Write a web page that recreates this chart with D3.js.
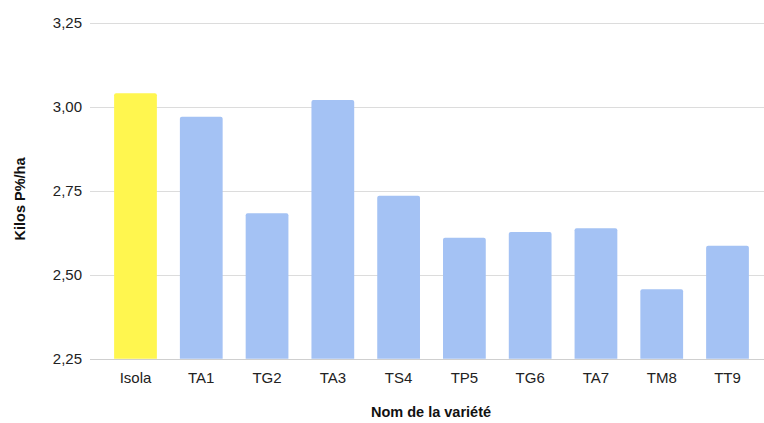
<!DOCTYPE html>
<html><head><meta charset="utf-8">
<script src="https://cdn.jsdelivr.net/npm/d3@7"></script>
<style>body{margin:0;background:#fff}svg{display:block;font-family:"Liberation Sans",Arial,sans-serif}</style>
</head><body><svg id="c" width="764" height="423"></svg>
<script>
const categories = ["Isola","TA1","TG2","TA3","TS4","TP5","TG6","TA7","TM8","TT9"];
const values = [3.04,2.97,2.683,3.02,2.735,2.61,2.627,2.638,2.457,2.586];
const colors = ["#fff64f","#a4c2f4","#a4c2f4","#a4c2f4","#a4c2f4","#a4c2f4","#a4c2f4","#a4c2f4","#a4c2f4","#a4c2f4"];
const yTicks = [2.25,2.5,2.75,3.0,3.25];
const xTitle = "Nom de la variété";
const yTitle = "Kilos P%/ha";

const svg = d3.select("#c");
const y = d3.scaleLinear().domain([2.25,3.25]).range([358.7,22.7]);
const x = d3.scaleBand().domain(categories).range([102.6,760.4]).paddingInner(0.35).paddingOuter(0.175);
const fmt = v => d3.format(".2f")(v).replace(".", ",");

const grid = svg.append("g");
yTicks.forEach(t => {
  grid.append("line").attr("x1",90).attr("x2",764).attr("y1",Math.round(y(t))+0.5).attr("y2",Math.round(y(t))+0.5)
    .attr("stroke", t===2.25 ? "#cfcfcf" : "#dcdcdc").attr("stroke-width",1);
  svg.append("text").attr("x",82).attr("y",y(t)).attr("dy","0.36em").attr("text-anchor","end")
    .attr("font-size",15).attr("fill","#222").text(fmt(t));
});

svg.append("g").selectAll("path").data(categories).join("path")
  .attr("fill",(d,i)=>colors[i])
  .attr("d",(d,i)=>{
    const x0 = x(d), w = x.bandwidth(), y0 = y(values[i]), y1 = y(2.25), r = 2;
    return `M${x0},${y1}V${y0+r}Q${x0},${y0} ${x0+r},${y0}H${x0+w-r}Q${x0+w},${y0} ${x0+w},${y0+r}V${y1}Z`;
  });

svg.append("g").selectAll("text").data(categories).join("text")
  .attr("x",d=>x(d)+x.bandwidth()/2).attr("y",382.5).attr("text-anchor","middle")
  .attr("font-size",15).attr("fill","#222").text(d=>d);

svg.append("text").attr("x",431).attr("y",417).attr("text-anchor","middle")
  .attr("font-size",14.5).attr("font-weight","bold").attr("fill","#111").text(xTitle);
svg.append("text").attr("transform","translate(25,199) rotate(-90)").attr("text-anchor","middle")
  .attr("font-size",14.5).attr("font-weight","bold").attr("fill","#111").text(yTitle);
</script></body></html>
